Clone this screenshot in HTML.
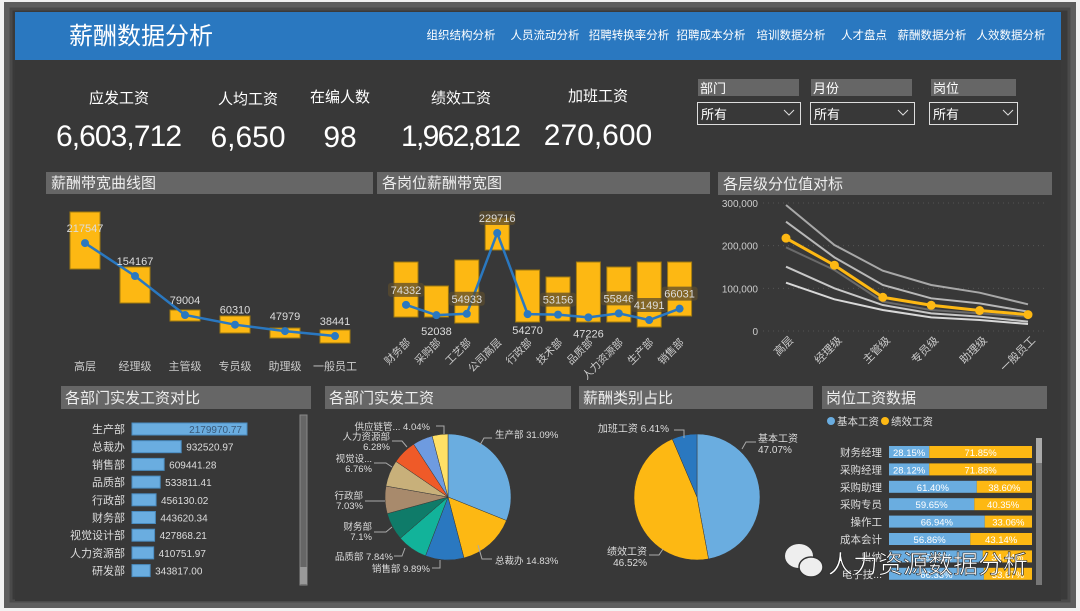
<!DOCTYPE html>
<html><head><meta charset="utf-8"><title>薪酬数据分析</title>
<style>
html,body{margin:0;padding:0;background:#f2f2f2;width:1080px;height:611px;overflow:hidden;}
svg{display:block;font-family:"Liberation Sans","Noto Sans CJK SC",sans-serif;}
text{font-family:"Liberation Sans","Noto Sans CJK SC",sans-serif;}
</style></head><body>
<svg id="page" width="1080" height="611" viewBox="0 0 1080 611" xmlns="http://www.w3.org/2000/svg">
<defs>
<linearGradient id="frameG" x1="0" y1="0" x2="0" y2="1"><stop offset="0" stop-color="#5a5a5a"/><stop offset="1" stop-color="#4a4a4a"/></linearGradient>
</defs>
<rect x="0" y="0" width="1080" height="611" fill="#f2f2f2"/>
<rect x="4" y="2" width="1072" height="606" rx="3" fill="#3a3a3a"/>
<rect x="7" y="5" width="1066" height="600" fill="none" stroke="#5e5e5e" stroke-width="6"/>
<rect x="11" y="9" width="1058" height="592" fill="none" stroke="#4a4a4a" stroke-width="3"/>
<rect x="15" y="12" width="1046" height="589" fill="#383838"/>
<rect x="15" y="12" width="1046" height="48" fill="#2a78c0"/>
<text x="69" y="44" font-size="24" fill="#fff">薪酬数据分析</text>
<g font-size="11.5" fill="#fff" text-anchor="middle">
<text x="461" y="39">组织结构分析</text>
<text x="545" y="39">人员流动分析</text>
<text x="629" y="39">招聘转换率分析</text>
<text x="711" y="39">招聘成本分析</text>
<text x="791" y="39">培训数据分析</text>
<text x="864" y="39">人才盘点</text>
<text x="932" y="39">薪酬数据分析</text>
<text x="1011" y="39">人效数据分析</text>
</g>
<g fill="#fff" text-anchor="middle">
<text x="119" y="103" font-size="15">应发工资</text>
<text x="248" y="104" font-size="15">人均工资</text>
<text x="340" y="102" font-size="15">在编人数</text>
<text x="461" y="103" font-size="15">绩效工资</text>
<text x="598" y="101" font-size="15">加班工资</text>
<text x="119" y="146" font-size="30" textLength="126">6,603,712</text>
<text x="248" y="147" font-size="30">6,650</text>
<text x="340" y="147" font-size="30">98</text>
<text x="461" y="146" font-size="30" textLength="120">1,962,812</text>
<text x="598" y="145" font-size="30">270,600</text>
</g>
<g font-size="13" fill="#fff">
<rect x="698" y="79" width="101" height="17" fill="#666"/>
<text x="700" y="93">部门</text>
<rect x="697.5" y="102.5" width="103" height="22" fill="none" stroke="#ddd"/>
<text x="701" y="119">所有</text>
<path d="M784 110 l5 5 l5 -5" fill="none" stroke="#ddd"/>
<rect x="811" y="79" width="101" height="17" fill="#666"/>
<text x="813" y="93">月份</text>
<rect x="810.5" y="102.5" width="104" height="22" fill="none" stroke="#ddd"/>
<text x="814" y="119">所有</text>
<path d="M898 110 l5 5 l5 -5" fill="none" stroke="#ddd"/>
<rect x="931" y="79" width="85" height="17" fill="#666"/>
<text x="933" y="93">岗位</text>
<rect x="929.5" y="102.5" width="88" height="22" fill="none" stroke="#ddd"/>
<text x="933" y="119">所有</text>
<path d="M1003 110 l5 5 l5 -5" fill="none" stroke="#ddd"/>
</g>
<g font-size="15" fill="#eee">
<rect x="46" y="172" width="327" height="22" fill="#666"/>
<text x="51" y="188">薪酬带宽曲线图</text>
<rect x="377" y="172" width="333" height="22" fill="#666"/>
<text x="382" y="188">各岗位薪酬带宽图</text>
<rect x="718" y="172" width="334" height="23" fill="#666"/>
<text x="723" y="189">各层级分位值对标</text>
<rect x="61" y="386" width="250" height="23" fill="#666"/>
<text x="65" y="403">各部门实发工资对比</text>
<rect x="325" y="386" width="246" height="23" fill="#666"/>
<text x="329" y="403">各部门实发工资</text>
<rect x="579" y="386" width="234" height="23" fill="#666"/>
<text x="583" y="403">薪酬类别占比</text>
<rect x="822" y="386" width="225" height="23" fill="#666"/>
<text x="826" y="403">岗位工资数据</text>
</g>
<g id="charts"></g>
<g id="watermark">
<ellipse cx="799" cy="556" rx="14" ry="12" fill="#eee"/>
<ellipse cx="811" cy="567" rx="12" ry="10" fill="#eee" stroke="#333" stroke-width="1.5"/>
<text x="828" y="573" font-size="25" fill="#fff" stroke="#222" stroke-width="0.6">人力资源数据分析</text>
</g>
</svg>
<script>
// ---- chart 1 data ----
const c1Cats = ['高层','经理级','主管级','专员级','助理级','一般员工'];
const c1Avg = [217547,154167,79004,60310,47979,38441];
const c1Max = [277500,171500,88600,77100,53900,50100];
const c1Min = [167600,102100,67400,44300,34700,25000];
// ---- chart 2 data ----
const c2Cats = ['财务部','采购部','工艺部','公司高层','行政部','技术部','品质部','人力资源部','生产部','销售部'];
const c2Avg = [74332,52038,54933,229716,54270,53156,47226,55846,41491,66031];
const c2Max = [167000,115100,171400,262000,149700,134600,167000,156200,167000,167000];
const c2Min = [48000,48000,35000,193000,37200,39400,37200,37200,26400,50200];
const c2LabelBelow = [false,true,false,false,true,false,true,false,false,false];
// ---- chart 3 data ----
const c3Cats = ['高层','经理级','主管级','专员级','助理级','一般员工'];
const c3Ticks = [0,100000,200000,300000];
const c3TickLabels = ['0','100,000','200,000','300,000'];
const c3P90 = [295300,201600,141300,107800,89800,62500];
const c3P75 = [256200,172600,107800,76600,64800,45300];
const c3P50 = [196100,143000,68800,49200,41400,33600];
const c3P25 = [150800,100000,60900,41400,33600,21900];
const c3P10 = [113300,74200,49200,32000,25800,16400];
const c3Actual = [217547,154167,79004,60310,47979,38441];
// ---- chart 4 data ----
const c4Cats = ['生产部','总裁办','销售部','品质部','行政部','财务部','视觉设计部','人力资源部','研发部'];
const c4Vals = [2179970.77,932520.97,609441.28,533811.41,456130.02,443620.34,427868.21,410751.97,343817.00];
// ---- chart 5 data ----
const c5Cats = ['生产部','总裁办','销售部','品质部','财务部','行政部','视觉设...','人力资源部','研发部','供应链管...'];
const c5Pcts = [31.09,14.83,9.89,7.84,7.1,7.03,6.76,6.28,5.14,4.04];
// ---- chart 6 data ----
const c6Cats = ['基本工资','绩效工资','加班工资'];
const c6Pcts = [47.07,46.52,6.41];
// ---- chart 7 data ----
const c7Cats = ['财务经理','采购经理','采购助理','采购专员','操作工','成本会计','出纳','电子技...'];
const c7Base = [28.15,28.12,61.40,59.65,66.94,56.86,65.56,66.33];
const c7Perf = [71.85,71.88,38.60,40.35,33.06,43.14,34.44,33.67];

const NS='http://www.w3.org/2000/svg';
const root=document.getElementById('charts');
function mk(tag,attrs,parent){const e=document.createElementNS(NS,tag);for(const k in attrs)e.setAttribute(k,attrs[k]);(parent||root).appendChild(e);return e;}
function txt(s,attrs,parent){const e=mk('text',attrs,parent);e.textContent=s;return e;}
const YEL='#fdb813', BLUE='#2a78c0', LBLUE='#6aade0';

// chart 1
const x1=i=>85+i*50, y1=v=>356-v*0.000519;
const g1=mk('g',{});


c1Cats.forEach((c,i)=>{
  const r=mk('rect',{x:x1(i)-15,y:y1(c1Max[i]),width:30,height:y1(c1Min[i])-y1(c1Max[i]),fill:YEL,stroke:'#a07a10','stroke-width':1},g1);
  
  
  const t=txt(c,{x:x1(i),y:370,'font-size':11,fill:'#ccc','text-anchor':'middle'},g1);
  
  
});
const l1=mk('polyline',{points:c1Avg.map((v,i)=>x1(i)+','+y1(v)).join(' '),fill:'none',stroke:BLUE,'stroke-width':2.5},g1);


c1Avg.forEach((v,i)=>{
  const d=mk('circle',{cx:x1(i),cy:y1(v),r:4,fill:BLUE},g1);
  
  
  const t=txt(String(v),{x:x1(i),y:y1(v)-11,'font-size':11,fill:'#ddd','text-anchor':'middle'},g1);
  
  
});

// chart 2
const x2=i=>406+i*30.4, y2=v=>339.2-v*0.0004622;
const g2=mk('g',{});


c2Cats.forEach((c,i)=>{
  const r=mk('rect',{x:x2(i)-12,y:y2(c2Max[i]),width:24,height:y2(c2Min[i])-y2(c2Max[i]),fill:YEL,stroke:'#a07a10','stroke-width':1},g2);
  
  
  const t=txt(c,{x:x2(i)+5,y:343,'font-size':10.5,fill:'#ccc','text-anchor':'end',transform:'rotate(-45 '+(x2(i)+5)+' 343)'},g2);
  
  
});
const l2=mk('polyline',{points:c2Avg.map((v,i)=>x2(i)+','+y2(v)).join(' '),fill:'none',stroke:BLUE,'stroke-width':2.5},g2);


c2Avg.forEach((v,i)=>{
  const d=mk('circle',{cx:x2(i),cy:y2(v),r:4,fill:BLUE},g2);
  
  
  const ly=c2LabelBelow[i]?y2(v)+20:y2(v)-11;
  if(!c2LabelBelow[i]){
    const b=mk('rect',{x:x2(i)-18,y:ly-11,width:36,height:14,rx:3,fill:'rgba(90,75,45,0.75)'},g2);
    
    
  }
  const t=txt(String(v),{x:x2(i),y:ly,'font-size':11,fill:'#ddd','text-anchor':'middle'},g2);
  
  
});

// chart 3
const x3=i=>786+i*48.4, y3=v=>331-v*128/300000;
const g3=mk('g',{});


c3Ticks.forEach((v,i)=>{
  const gl=mk('line',{x1:763,x2:1048,y1:y3(v),y2:y3(v),stroke:'#555','stroke-dasharray':'1 4'},g3);
  
  
  const t=txt(c3TickLabels[i],{x:758,y:y3(v)+4,'font-size':10,fill:'#ccc','text-anchor':'end'},g3);
  
  
});
const c3Series=[[c3P90,'#a8a8a8'],[c3P75,'#b8b8b8'],[c3P50,'#6a6a6a'],[c3P25,'#c8c8c8'],[c3P10,'#d8d8d8']];
c3Series.forEach((s,k)=>{
  const p=mk('polyline',{points:s[0].map((v,i)=>x3(i)+','+y3(v)).join(' '),fill:'none',stroke:s[1],'stroke-width':2},g3);
  
  
});
const l3=mk('polyline',{points:c3Actual.map((v,i)=>x3(i)+','+y3(v)).join(' '),fill:'none',stroke:YEL,'stroke-width':3},g3);


c3Actual.forEach((v,i)=>{
  const d=mk('circle',{cx:x3(i),cy:y3(v),r:4.5,fill:YEL},g3);
  
  
});
c3Cats.forEach((c,i)=>{
  const t=txt(c,{x:x3(i)+8,y:341,'font-size':11,fill:'#ccc','text-anchor':'end',transform:'rotate(-45 '+(x3(i)+8)+' 341)'},g3);
  
  
});

// chart 4
const x4w=v=>v/2179970.77*115, y4=i=>429+i*17.7;
const g4=mk('g',{});


c4Cats.forEach((c,i)=>{
  const w=x4w(c4Vals[i]);
  const r=mk('rect',{x:132,y:y4(i)-6,width:w,height:12,fill:LBLUE,stroke:'#4a8cc0'},g4);
  
  
  const t=txt(c,{x:125,y:y4(i)+4,'font-size':11,fill:'#ddd','text-anchor':'end'},g4);
  
  
  const inside=w>80;
  const v=txt(c4Vals[i].toFixed(2),{x:inside?132+w-5:132+w+5,y:y4(i)+4,'font-size':10,fill:inside?'#3a5a7a':'#ddd','text-anchor':inside?'end':'start'},g4);
  
  
});
const sb=mk('rect',{x:300,y:415,width:7,height:170,fill:'#666',stroke:'#888'},g4);


const st=mk('rect',{x:300,y:567,width:7,height:17,fill:'#999'},g4);



// pie helper
function pie(g,cx,cy,r,pcts,colors,name){
  const tot=pcts.reduce((a,b)=>a+b,0);let a0=-Math.PI/2;
  pcts.forEach((p,i)=>{
    const a1=a0+p/tot*2*Math.PI;
    const large=(a1-a0)>Math.PI?1:0;
    const d='M'+cx+' '+cy+' L'+(cx+r*Math.cos(a0))+' '+(cy+r*Math.sin(a0))+' A'+r+' '+r+' 0 '+large+' 1 '+(cx+r*Math.cos(a1))+' '+(cy+r*Math.sin(a1))+' Z';
    const s=mk('path',{d:d,fill:colors[i],stroke:'#383838','stroke-width':0.5},g);
    
    
    a0=a1;
  });
}
// chart 5
const g5=mk('g',{});


pie(g5,448,497,63,c5Pcts,[LBLUE,YEL,BLUE,'#12b39a','#0f7b69','#a88a6c','#c8b07a','#ef5a28','#6e9be0','#ffe066'],'dept-pay');
const c5Lab=[
 [[c5Cats[0]+' '+c5Pcts[0]+'%'],495,438,'start','M480 445 l4 -7 h8'],
 [[c5Cats[1]+' '+c5Pcts[1]+'%'],495,564,'start','M478 545 l4 14 h10'],
 [[c5Cats[2]+' '+c5Pcts[2]+'%'],430,572,'end','M440 560 v8 h-8'],
 [[c5Cats[3]+' '+c5Pcts[3]+'%'],393,560,'end','M405 548 l-3 8 h-8'],
 [[c5Cats[4],c5Pcts[4]+'%'],372,530,'end','M392 527 l-6 5 h-12'],
 [[c5Cats[5],c5Pcts[5]+'%'],363,499,'end','M385 501 h-20'],
 [[c5Cats[6],c5Pcts[6]+'%'],372,462,'end','M392 467 l-6 -4 h-12'],
 [[c5Cats[7],c5Pcts[7]+'%'],390,440,'end','M407 447 l-5 -6 h-10'],
 [[c5Cats[9]+' '+c5Pcts[9]+'%'],430,430,'end','M444 434 v-8 h-8']
];
c5Lab.forEach(L=>{
  const ln=mk('path',{d:L[4],fill:'none',stroke:'#aaa','stroke-width':1},g5);
  
  
  L[0].forEach((s,k)=>{
    const t=txt(s,{x:L[1],y:L[2]+k*10,'font-size':9.5,fill:'#ddd','text-anchor':L[3]},g5);
    
    
  });
});
// chart 6
const g6=mk('g',{});


pie(g6,697,497,63,c6Pcts,[LBLUE,YEL,BLUE],'pay-type');
const c6Lab=[
 [[c6Cats[0],c6Pcts[0]+'%'],758,442,'start','M742 449 l4 -7 h10'],
 [[c6Cats[1],c6Pcts[1]+'%'],647,555,'end','M663 549 l-4 6 h-10'],
 [[c6Cats[2]+' '+c6Pcts[2]+'%'],669,432,'end','M684 438 v-8 h-10']
];
c6Lab.forEach(L=>{
  const ln=mk('path',{d:L[4],fill:'none',stroke:'#aaa','stroke-width':1},g6);
  
  
  L[0].forEach((s,k)=>{
    const t=txt(s,{x:L[1],y:L[2]+k*11,'font-size':10,fill:'#ddd','text-anchor':L[3]},g6);
    
    
  });
});
// chart 7
const g7=mk('g',{});


const lg1=mk('circle',{cx:831,cy:421,r:4,fill:LBLUE},g7);


const lt1=txt('基本工资',{x:837,y:425,'font-size':10.5,fill:'#ddd'},g7);


const lg2=mk('circle',{cx:885,cy:421,r:4,fill:YEL},g7);


const lt2=txt('绩效工资',{x:891,y:425,'font-size':10.5,fill:'#ddd'},g7);


const x7w=p=>p/100*143, y7=i=>452+i*17.4;
c7Cats.forEach((c,i)=>{
  const wb=x7w(c7Base[i]), wp=x7w(c7Perf[i]);
  const rb=mk('rect',{x:889,y:y7(i)-6,width:wb,height:12,fill:LBLUE},g7);
  
  
  const rp=mk('rect',{x:889+wb,y:y7(i)-6,width:wp,height:12,fill:YEL},g7);
  
  
  const t=txt(c,{x:882,y:y7(i)+4,'font-size':10.5,fill:'#ddd','text-anchor':'end'},g7);
  
  
  const tb=txt(c7Base[i].toFixed(2)+'%',{x:889+wb/2,y:y7(i)+4,'font-size':9.5,fill:'#fff','text-anchor':'middle'},g7);
  
  
  const tp=txt(c7Perf[i].toFixed(2)+'%',{x:889+wb+wp/2,y:y7(i)+4,'font-size':9.5,fill:'#fff','text-anchor':'middle'},g7);
  
  
});
const sb7=mk('rect',{x:1036,y:438,width:6,height:147,fill:'#777'},g7);


const st7=mk('rect',{x:1036,y:438,width:6,height:25,fill:'#aaa'},g7);


</script>
</body></html>
